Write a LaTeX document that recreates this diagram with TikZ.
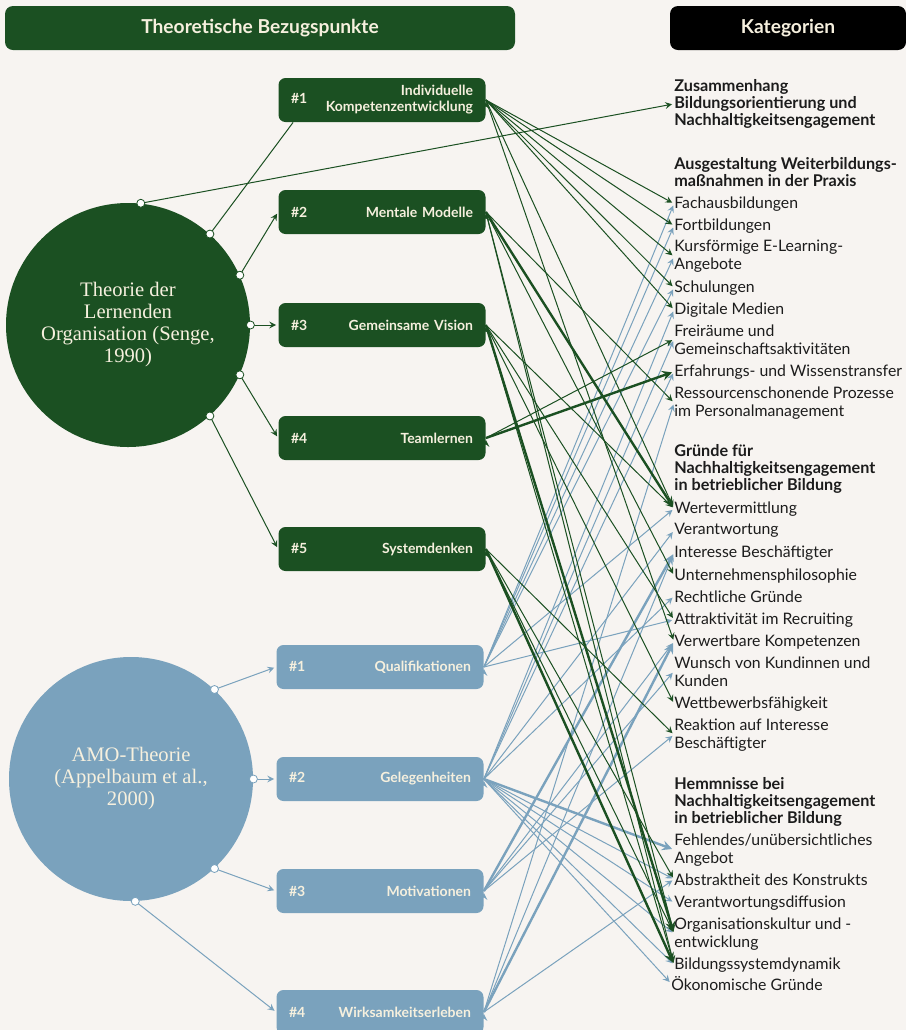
\documentclass[tikz,border=0pt]{standalone}
\usepackage{fontspec}
\setmainfont{Lato}
\newfontfamily\circfont{Liberation Serif}
\usetikzlibrary{shapes,arrows,positioning}

\definecolor{dgreen}{RGB}{27,80,34}
\definecolor{lblue}{RGB}{122,162,189}
\definecolor{cream}{RGB}{246,240,222}
\definecolor{paper}{RGB}{247,244,241}
\definecolor{ink}{RGB}{28,28,28}

\tikzset{
  hdr/.style={rounded corners=4pt, minimum height=22pt, inner sep=0pt,
    font=\bfseries\fontsize{9.6}{10}\selectfont, text=cream},
  theo/.style={circle, minimum size=122pt, inner sep=0pt, align=center,
    font=\circfont\fontsize{10.3}{11}\selectfont, text=cream},
  gbox/.style={fill=dgreen, rounded corners=3.5pt, minimum width=103.5pt,
    minimum height=22pt, text width=91pt, inner sep=0pt,
    font=\bfseries\fontsize{7}{8}\selectfont, text=cream},
  bbox/.style={gbox, fill=lblue},
  cat/.style={anchor=north west, inner sep=0pt, align=left,
    font=\fontsize{7.9}{9}\selectfont, text=ink},
  cathead/.style={cat, font=\bfseries\fontsize{8.1}{8.5}\selectfont},
  gl/.style={dgreen, line width=0.5pt, ->, >=stealth, shorten >=1pt},
  bl/.style={lblue, line width=0.5pt, ->, >=stealth, shorten >=1pt},
  thk/.style={line width=1.2pt},
  gdot/.style={circle, fill=white, draw=dgreen, line width=0.4pt, inner sep=0pt, minimum size=4pt},
  bdot/.style={gdot, draw=lblue}
}

\begin{document}
\begin{tikzpicture}[x=0.5pt,y=-0.5pt]
\useasboundingbox (0,0) rectangle (906,1030);
\fill[paper] (0,0) rectangle (906,1030);

% Headers
\node[hdr, fill=dgreen, minimum width=255pt] (hleft) at (260,28) {Theoretische Bezugspunkte};
\node[hdr, fill=black, minimum width=118pt] (hright) at (788,28) {Kategorien};

% Theories
\node[theo, fill=dgreen] (lo) at (128,325) {Theorie der\\Lernenden\\Organisation (Senge,\\1990)};
\node[theo, fill=lblue] (amo) at (131,779) {AMO-Theorie\\(Appelbaum et al.,\\2000)};

% Disciplines (Senge)
\node[gbox] (g1) at (382,100) {\#1\hfill\begin{tabular}{@{}r@{}}Individuelle\\Kompetenzentwicklung\end{tabular}};
\node[gbox] (g2) at (382,212) {\#2\hfill Mentale Modelle};
\node[gbox] (g3) at (382,325) {\#3\hfill Gemeinsame Vision};
\node[gbox] (g4) at (382,438) {\#4\hfill Teamlernen};
\node[gbox] (g5) at (382,549) {\#5\hfill Systemdenken};

% AMO dimensions
\node[bbox] (b1) at (380,667) {\#1\hfill Qualifikationen};
\node[bbox] (b2) at (380,779) {\#2\hfill Gelegenheiten};
\node[bbox] (b3) at (380,891) {\#3\hfill Motivationen};
\node[bbox] (b4) at (380,1012) {\#4\hfill Wirksamkeitserleben};

% Categories
\node[cathead] (zus) at (674,79) {Zusammenhang\\Bildungsorientierung und\\Nachhaltigkeitsengagement};
\node[cathead] (aus) at (674,157) {Ausgestaltung Weiterbildungs-\\maßnahmen in der Praxis};
\node[cat] (fach) at (674,196) {Fachausbildungen};
\node[cat] (fort) at (674,218) {Fortbildungen};
\node[cat] (kurs) at (674,240) {Kursförmige E-Learning-\\Angebote};
\node[cat] (schul) at (674,280) {Schulungen};
\node[cat] (digi) at (674,302) {Digitale Medien};
\node[cat] (frei) at (674,324) {Freiräume und\\Gemeinschaftsaktivitäten};
\node[cat] (erf) at (674,364) {Erfahrungs- und Wissenstransfer};
\node[cat] (res) at (674,386) {Ressourcenschonende Prozesse\\im Personalmanagement};

\node[cathead] (gru) at (674,444) {Gründe für\\Nachhaltigkeitsengagement\\in betrieblicher Bildung};
\node[cat] (wert) at (674,501) {Wertevermittlung};
\node[cat] (vera) at (674,523) {Verantwortung};
\node[cat] (inte) at (674,545) {Interesse Beschäftigter};
\node[cat] (unter) at (674,568) {Unternehmensphilosophie};
\node[cat] (recht) at (674,590) {Rechtliche Gründe};
\node[cat] (attr) at (674,612) {Attraktivität im Recruiting};
\node[cat] (verw) at (674,634) {Verwertbare Kompetenzen};
\node[cat] (wun) at (674,656) {Wunsch von Kundinnen und\\Kunden};
\node[cat] (wett) at (674,696) {Wettbewerbsfähigkeit};
\node[cat] (reak) at (674,718) {Reaktion auf Interesse\\Beschäftigter};

\node[cathead] (hem) at (674,777) {Hemmnisse bei\\Nachhaltigkeitsengagement\\in betrieblicher Bildung};
\node[cat] (fehl) at (674,833) {Fehlendes/unübersichtliches\\Angebot};
\node[cat] (abst) at (674,873) {Abstraktheit des Konstrukts};
\node[cat] (vdif) at (674,895) {Verantwortungsdiffusion};
\node[cat] (org) at (674,917) {Organisationskultur und -\\entwicklung};
\node[cat] (bild) at (674,957) {Bildungssystemdynamik};
\node[cat] (oeko) at (671,976) {Ökonomische Gründe};

% Theory -> dimensions
\draw[gl] (lo.84) -- (zus.west);
\draw[dgreen, line width=0.5pt] (lo.48) -- ([xshift=7.5pt]g1.south west);
\draw[gl] (lo.24) -- (g2.west);
\draw[gl] (lo.0) -- (g3.west);
\draw[gl] (lo.-24) -- (g4.west);
\draw[gl] (lo.-48) -- (g5.west);
\draw[bl] (amo.47) -- (b1.west);
\draw[bl] (amo.0) -- (b2.west);
\draw[bl] (amo.-47) -- (b3.west);
\draw[bl] (amo.-88) -- (b4.west);

% Blue connectors
\draw[bl] (b1.east) edge (fach.west) edge (fort.west) edge (kurs.west) edge (schul.west)
  edge (wert.west) edge (attr.west);
\draw[bl] (b2.east) edge (digi.west) edge (frei.west) edge (erf.west) edge (vera.west)
  edge (recht.west) edge[thk] (fehl.west) edge (abst.west) edge (vdif.west)
  edge (org.west) edge (bild.west) edge (oeko.west);
\draw[bl] (b3.east) edge[thk] (inte.west) edge (verw.west) edge (wun.west) edge (reak.west);
\draw[bl] (b4.east) edge (inte.west) edge[thk] (verw.west) edge (res.west) edge (abst.west);

% Green connectors
\draw[gl] (g1.east) edge (fach.west) edge (fort.west) edge (kurs.west) edge (schul.west)
  edge (digi.west) edge (wert.west) edge (verw.west);
\draw[gl] (g2.east) edge (res.west) edge[thk] (wert.west) edge (unter.west)
  edge (org.west) edge (bild.west);
\draw[gl] (g3.east) edge (wert.west) edge (attr.west) edge (wett.west)
  edge[thk] (org.west) edge (bild.west);
\draw[gl] (g4.east) edge (frei.west) edge[thk] (erf.west);
\draw[gl] (g5.east) edge (reak.west) edge (abst.west) edge (org.west) edge[thk] (bild.west);

% Dots on the circles
\node[gdot] (dz) at (lo.84) {};
\node[gdot] (d1) at (lo.48) {};
\node[gdot] (d2) at (lo.24) {};
\node[gdot] (d3) at (lo.0) {};
\node[gdot] (d4) at (lo.-24) {};
\node[gdot] (d5) at (lo.-48) {};
\node[bdot] (e1) at (amo.47) {};
\node[bdot] (e2) at (amo.0) {};
\node[bdot] (e3) at (amo.-47) {};
\node[bdot] (e4) at (amo.-88) {};
\end{tikzpicture}
\end{document}
